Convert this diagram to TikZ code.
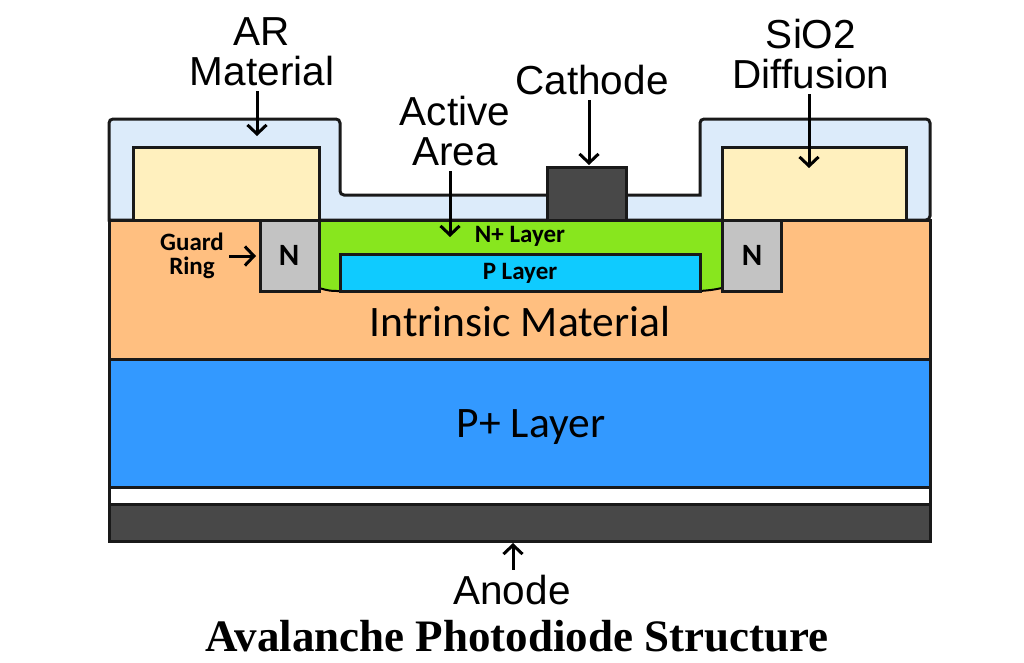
\documentclass[tikz,border=0pt]{standalone}
\usepackage{fontspec}
\setmainfont{Liberation Sans}
\newfontfamily\calfont{Carlito}
\newfontfamily\titlefont{Liberation Serif}
\usetikzlibrary{arrows.meta}
\definecolor{oxide}{HTML}{DCEBFA}
\definecolor{cream}{HTML}{FFF0BE}
\definecolor{intrinsic}{HTML}{FFBF80}
\definecolor{nplus}{HTML}{88E61E}
\definecolor{player}{HTML}{0FCBFF}
\definecolor{pplus}{HTML}{3399FF}
\definecolor{metal}{HTML}{484848}
\definecolor{guard}{HTML}{C3C3C3}
\tikzset{
	outline/.style={line width=3pt, color=black!90},
	callout/.style={align=center, inner sep=0pt, font=\fontsize{40.5}{41}\selectfont},
	layertext/.style={inner sep=0pt, font=\calfont\fontsize{43.5}{46}\selectfont},
	smalltext/.style={inner sep=0pt, font=\calfont\bfseries\fontsize{25}{24}\selectfont},
	letter/.style={inner sep=0pt, font=\calfont\bfseries\fontsize{31}{31}\selectfont},
	pointer/.style={line width=3pt, shorten <=5pt, -{Straight Barb[length=9pt,width=19pt]}}
}

\begin{document}
\begin{tikzpicture}[x=1pt, y=-1pt]
		%%%%% START %%%%%
		\useasboundingbox (0, 0) rectangle (1024, 662);
		
		\draw[outline, fill=oxide, rounded corners=4pt] (109, 220) -- (109, 119) -- (340, 119) -- (340, 195) [sharp corners] -- (700, 195) [rounded corners=4pt] -- (700, 119) -- (930, 119) -- (930, 220) [sharp corners] -- cycle;
		\draw[outline, fill=cream] (133, 220) rectangle (319, 147);
		\draw[outline, fill=cream] (722, 220) rectangle (906, 147);
		\draw[outline, fill=metal] (547, 220) rectangle (626, 167);
		
		\draw[outline, fill=intrinsic] (109, 220) rectangle (930, 359);
		\draw[fill=nplus, draw=none] (319, 220) -- (722, 220) -- (722, 288) .. controls (712, 290) .. (700, 291) -- (340, 291) .. controls (330, 291) .. (319, 288) -- cycle;
		\draw[outline] (319, 220) -- (722, 220);
		\draw[line width=2pt] (319, 288) .. controls (330, 291) .. (340, 291);
		\draw[line width=2pt] (700, 291) .. controls (712, 290) .. (722, 288);
		\draw[outline, fill=player] (340, 291) rectangle (700, 254);
		\draw[outline, fill=guard] (260, 220) rectangle (319, 291);
		\draw[outline, fill=guard] (722, 220) rectangle (781, 291);
		
		\draw[outline, fill=pplus] (109, 359) rectangle (930, 487);
		\draw[outline, fill=white] (109, 487) rectangle (930, 504);
		\draw[outline, fill=metal] (109, 504) rectangle (930, 541);
		
		\node[callout] (armaterial) at (262, 52) {AR\\[-1pt]Material};
		\node[callout] (activearea) at (455, 131) {Active\\[-1pt]Area};
		\node[callout] (cathode) at (592, 80) {Cathode};
		\node[callout] (sio2) at (811, 54) {SiO2\\[-1pt]Diffusion};
		\node[callout] (anode) at (512, 590) {Anode};
		\node[smalltext, align=center] (guardring) at (192, 256) {Guard\\Ring};
		
		\node[smalltext] (nlabel) at (520, 236) {N+ Layer};
		\node[smalltext] (plabel) at (520, 273) {P Layer};
		\node[letter] (nleft) at (289, 255) {N};
		\node[letter] (nright) at (752, 255) {N};
		\node[layertext] (intrinsiclabel) at (520, 322) {Intrinsic Material};
		\node[layertext] (ppluslabel) at (531, 427) {P+ Layer};
		\node[inner sep=0pt, font=\titlefont\bfseries\fontsize{45}{48}\selectfont] (title) at (517, 636) {Avalanche Photodiode Structure};
		
		\coordinate (artip) at (257, 136);
		\coordinate (activetip) at (450, 237);
		\coordinate (cathodetip) at (589, 165);
		\coordinate (siotip) at (809, 168);
		\coordinate (anodetip) at (513, 543);
		\coordinate (guardtip) at (256, 256);
		
		\draw[pointer] (armaterial.south -| artip) -- (artip);
		\draw[pointer] (activearea.south -| activetip) -- (activetip);
		\draw[pointer] (cathode.south -| cathodetip) -- (cathodetip);
		\draw[pointer] (sio2.south -| siotip) -- (siotip);
		\draw[pointer] (anode.north -| anodetip) -- (anodetip);
		\draw[pointer] (guardring.east |- guardtip) -- (guardtip);
		%%%%% END %%%%%
	\end{tikzpicture}
\end{document}
